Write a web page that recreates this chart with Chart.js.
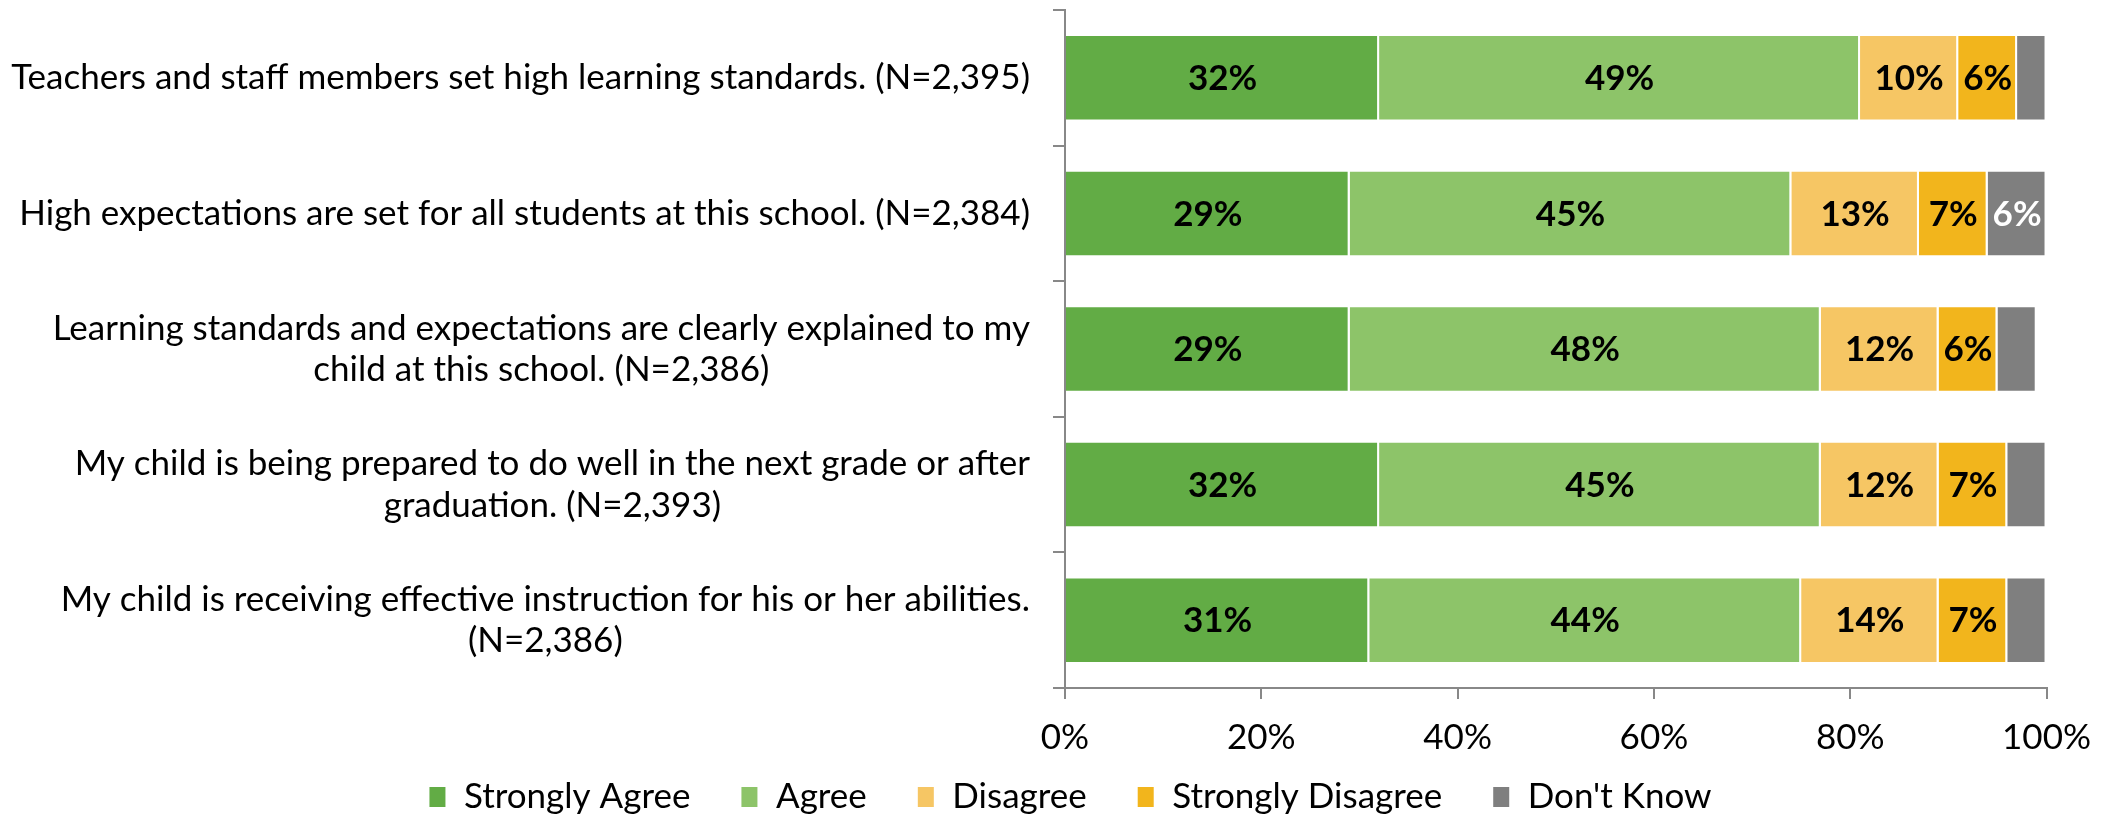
<!DOCTYPE html>
<html>
<head>
<meta charset="utf-8">
<script src="https://cdn.jsdelivr.net/npm/chart.js@4.4.0/dist/chart.umd.min.js"></script>
<style>
  html, body { margin: 0; padding: 0; background: #fff; overflow: hidden; }
  #wrap { width: 2109px; height: 816px; position: relative; }
</style>
</head>
<body>
<div id="wrap"><canvas id="chart"></canvas></div>
<script>
// survey items, one array of lines per category
const categories = [
  ["Teachers and staff members set high learning standards. (N=2,395)"],
  ["High expectations are set for all students at this school. (N=2,384)"],
  ["Learning standards and expectations are clearly explained to my", "child at this school. (N=2,386)"],
  ["My child is being prepared to do well in the next grade or after", "graduation. (N=2,393)"],
  ["My child is receiving effective instruction for his or her abilities.", "(N=2,386)"]
];
const seriesNames = ["Strongly Agree", "Agree", "Disagree", "Strongly Disagree", "Don't Know"];
const stronglyAgree = [32, 29, 29, 32, 31];
const agree = [49, 45, 48, 45, 44];
const disagree = [10, 13, 12, 12, 14];
const stronglyDisagree = [6, 7, 6, 7, 7];
const dontKnow = [3, 6, 4, 4, 4];
const xTickValues = [0, 20, 40, 60, 80, 100];

const FONT = "Lato, 'Open Sans', sans-serif";
const AXIS_COLOR = "#888888";

// size the font so the longest label is as wide as in the original
const mctx = document.createElement("canvas").getContext("2d");
mctx.font = "100px " + FONT;
const FONT_SIZE = Math.round(100 * 1020 / mctx.measureText(categories[0][0]).width);
const LINE_H = 41.5;
const LEGEND_PAD = 50;
const LEGEND_Y = 797;
const LEGEND_SHIFT = 46;

Chart.defaults.font.family = FONT;
Chart.defaults.font.size = FONT_SIZE;
Chart.defaults.color = "#000";

const colors = ["#62AC45", "#8DC469", "#F6C664", "#F2B51C", "#7F7F7F"];
const labelColors = ["#000", "#000", "#000", "#000", "#fff"];
const values = [stronglyAgree, agree, disagree, stronglyDisagree, dontKnow];

const datasets = seriesNames.map((name, i) => ({
  label: name,
  data: values[i],
  backgroundColor: colors[i],
  borderColor: "#ffffff",
  borderWidth: 2,
  borderSkipped: "start",
  barPercentage: 0.645,
  categoryPercentage: 1.0
}));

// percentage labels inside the segments
const segmentLabels = {
  id: "segmentLabels",
  afterDatasetsDraw(chart) {
    const ctx = chart.ctx;
    ctx.save();
    ctx.font = "bold " + FONT_SIZE + "px " + FONT;
    ctx.textAlign = "center";
    ctx.textBaseline = "middle";
    chart.data.datasets.forEach((ds, di) => {
      const meta = chart.getDatasetMeta(di);
      meta.data.forEach((bar, i) => {
        const v = ds.data[i];
        if (v < 5) return;
        ctx.fillStyle = labelColors[di];
        ctx.fillText(v + "%", (bar.x + bar.base) / 2, bar.y + 1);
      });
    });
    ctx.restore();
  }
};

// category labels: block right aligned against the axis, lines centred in the block
const categoryLabels = {
  id: "categoryLabels",
  afterDraw(chart) {
    const ctx = chart.ctx;
    const yScale = chart.scales.y;
    const rightEdge = yScale.right - 35;
    ctx.save();
    ctx.font = FONT_SIZE + "px " + FONT;
    ctx.fillStyle = "#000";
    ctx.textAlign = "center";
    ctx.textBaseline = "middle";
    categories.forEach((lines, i) => {
      const yc = yScale.getPixelForTick(i);
      const blockW = Math.max(...lines.map(l => ctx.measureText(l).width));
      const xc = rightEdge - blockW / 2;
      const y0 = yc - (lines.length - 1) * LINE_H / 2;
      lines.forEach((l, k) => ctx.fillText(l, xc, y0 + k * LINE_H));
    });
    ctx.restore();
  }
};

// move the legend row so it sits where the original has it
const legendPlace = {
  id: "legendPlace",
  afterLayout(chart) {
    const legend = chart.legend;
    if (!legend) return;
    legend.top = LEGEND_Y - LEGEND_PAD - FONT_SIZE / 2;
    legend.bottom = chart.height;
    legend.height = legend.bottom - legend.top;
    legend.left += LEGEND_SHIFT;
    legend.right += LEGEND_SHIFT;
  }
};

const chart = new Chart(document.getElementById("chart"), {
  type: "bar",
  data: {
    labels: categories.map(c => c.join(" ")),
    datasets: datasets
  },
  options: {
    indexAxis: "y",
    responsive: true,
    maintainAspectRatio: false,
    animation: false,
    layout: { padding: { top: 10, right: 61, left: 0, bottom: 0 } },
    scales: {
      x: {
        stacked: true,
        min: 0,
        max: 100,
        afterBuildTicks(scale) {
          scale.ticks = xTickValues.map(v => ({ value: v }));
        },
        afterFit(scale) { scale.height = 70; },
        ticks: {
          padding: 18,
          callback: v => v + "%"
        },
        grid: {
          drawOnChartArea: false,
          drawTicks: true,
          tickLength: 11,
          color: AXIS_COLOR,
          lineWidth: 2
        },
        border: { display: true, color: AXIS_COLOR, width: 2 }
      },
      y: {
        stacked: true,
        afterFit(scale) { scale.width = 1065; },
        ticks: { display: false },
        grid: {
          offset: true,
          drawOnChartArea: false,
          drawTicks: true,
          tickLength: 12,
          color: AXIS_COLOR,
          lineWidth: 2
        },
        border: { display: true, color: AXIS_COLOR, width: 2 }
      }
    },
    plugins: {
      legend: {
        position: "bottom",
        maxHeight: 58,
        labels: {
          boxWidth: 18,
          boxHeight: 22,
          padding: LEGEND_PAD
        }
      },
      tooltip: { enabled: false }
    }
  },
  plugins: [legendPlace, segmentLabels, categoryLabels]
});
</script>
</body>
</html>
